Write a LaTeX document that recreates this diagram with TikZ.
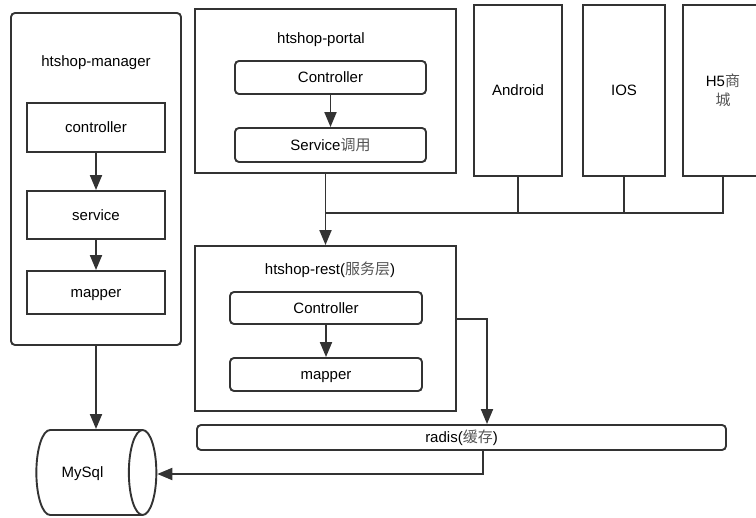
\documentclass[tikz,border=0pt]{standalone}
\usepackage{fontspec}
\setmainfont{Liberation Sans}
\newfontfamily\cjk{Noto Sans CJK SC}
\usetikzlibrary{arrows.meta,shapes.geometric}
\definecolor{ink}{HTML}{333333}
\definecolor{cjkgray}{HTML}{555555}
\newcommand{\zh}[1]{{\cjk\color{cjkgray}#1}}

\begin{document}
\begin{tikzpicture}[x=1pt, y=-1pt, line width=1.9pt, draw=ink,
    every node/.style={font=\fontsize{15}{19}\selectfont, text=black, inner sep=0pt,
      text height=11pt, text depth=0pt},
    box/.style={draw=ink, rectangle},
    rbox/.style={draw=ink, rectangle, rounded corners=4pt},
    arr/.style={draw=ink, line width=1.9pt, -{Triangle[length=15pt,width=12pt]}}]
  \useasboundingbox (0,0) rectangle (756,518);
  \clip (0,0) rectangle (756,518);
  % Manager column
  \node[rbox, minimum width=170pt, minimum height=332pt] (manager) at (96,179) {};
  \node (mtitle) at (96,61) {htshop-manager};
  \node[box, minimum width=138pt, minimum height=49pt] (mctrl) at (96,127.5) {controller};
  \node[box, minimum width=138pt, minimum height=48pt] (msvc) at (96,215) {service};
  \node[box, minimum width=138pt, minimum height=43pt] (mmap) at (96,292.5) {mapper};
  \draw[arr] (mctrl) -- (msvc);
  \draw[arr] (msvc) -- (mmap);
  % Database
  \node[draw=ink, shape=cylinder, aspect=2.5, minimum width=85pt, minimum height=120pt,
    label={[xshift=-6.5pt]center:MySql}] (mysql) at (89,472.5) {};
  \draw[arr] (manager.south) -- (manager.south |- mysql.north);
  % Portal
  \node[box, minimum width=261pt, minimum height=164pt] (portal) at (325.5,91) {};
  \node (ptitle) at (321,38) {htshop-portal};
  \node[rbox, minimum width=191pt, minimum height=33pt] (pctrl) at (330.5,77.5) {Controller};
  \node[rbox, minimum width=191pt, minimum height=34pt] (psvc) at (330.5,145) {Service\zh{调用}};
  \draw[arr] (pctrl) -- (psvc);
  % Clients
  \node[box, minimum width=88pt, minimum height=171pt] (android) at (518,90.5) {Android};
  \node[box, minimum width=82pt, minimum height=171pt] (ios) at (624,90.5) {IOS};
  \node[box, minimum width=80pt, minimum height=171pt, align=center, text height=, text depth=] (hfive) at (723,90.5) {H5\zh{商}\\\zh{城}};
  \coordinate (bus) at (325,213);
  \draw (android.south) -- (android.south |- bus);
  \draw (ios.south) -- (ios.south |- bus);
  \draw (hfive.south) -- (hfive.south |- bus) -- (bus);
  % Rest layer
  \node[box, minimum width=261pt, minimum height=165pt] (rest) at (325.5,328.5) {};
  \node (rtitle) at (330,269) {htshop-rest(\zh{服务层})};
  \node[rbox, minimum width=192pt, minimum height=32pt] (rctrl) at (326,308) {Controller};
  \node[rbox, minimum width=192pt, minimum height=33pt] (rmap) at (326,374.5) {mapper};
  \draw[arr] (rctrl) -- (rmap);
  \draw[arr] (portal.south) -- (rest.north);
  % Cache
  \node[rbox, minimum width=529pt, minimum height=25pt] (radis) at (461.5,437.5) {radis(\zh{缓存})};
  \coordinate (cachein) at (487,319);
  \coordinate (cacheout) at (483,474);
  \draw[arr] (rest.east |- cachein) -| (cachein |- radis.north);
  \draw[arr] (cacheout |- radis.south) -- (cacheout) -- (mysql.east |- cacheout);
\end{tikzpicture}
\end{document}
